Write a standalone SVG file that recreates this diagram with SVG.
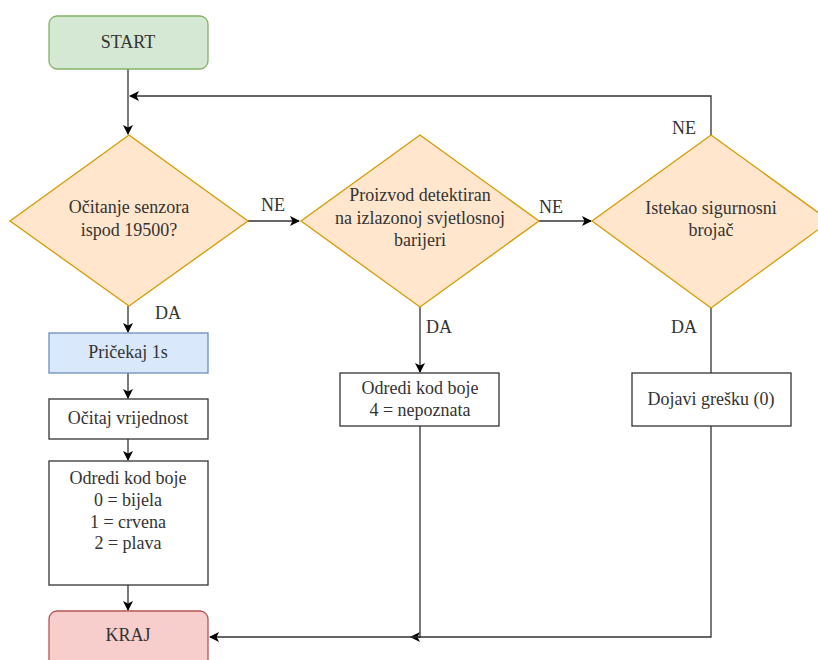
<svg xmlns="http://www.w3.org/2000/svg" width="818" height="660" viewBox="0 0 818 660" font-family="'Liberation Serif', 'DejaVu Serif', serif">
<style>
text{font-family:'Liberation Serif','DejaVu Serif',serif;font-size:18px;fill:#333;text-anchor:middle}
.e{fill:none;stroke:#333;stroke-width:1.3}
.box{fill:#fff;stroke:#333;stroke-width:1.3}
.dia{fill:#ffe6cc;stroke:#d79b00;stroke-width:1.3}
</style>
<defs>
<marker id="ar" viewBox="0 0 10 10" refX="9" refY="5" markerWidth="10" markerHeight="10" markerUnits="userSpaceOnUse" orient="auto">
<path d="M0,0 L10,5 L0,10 L2.5,5 Z" fill="#000"/>
</marker>
</defs>
<g id="connectors">
<path class="e" d="M128,69 V134" marker-end="url(#ar)"/>
<path class="e" d="M711,135 V96 H130" marker-end="url(#ar)"/>
<path class="e" d="M248,221 H299" marker-end="url(#ar)"/>
<path class="e" d="M539,221 H591" marker-end="url(#ar)"/>
<path class="e" d="M128,306 V332" marker-end="url(#ar)"/>
<path class="e" d="M128,373 V398" marker-end="url(#ar)"/>
<path class="e" d="M128,439 V460" marker-end="url(#ar)"/>
<path class="e" d="M128,585 V610" marker-end="url(#ar)"/>
<path class="e" d="M420,307 V372" marker-end="url(#ar)"/>
<path class="e" d="M711,308 V373"/>
<path class="e" d="M711,426 V637 H411" marker-end="url(#ar)"/>
<path class="e" d="M420,426 V637 H210" marker-end="url(#ar)"/>
<text x="273" y="211">NE</text>
<text x="551" y="213">NE</text>
<text x="684" y="134">NE</text>
<text x="168" y="319">DA</text>
<text x="439" y="333">DA</text>
<text x="684" y="333">DA</text>
</g>
<g id="start">
<rect x="49" y="16" width="159" height="53" rx="8" fill="#d5e8d4" stroke="#82b366" stroke-width="1.3"/>
<text x="128" y="48">START</text>
</g>
<g id="d1">
<polygon class="dia" points="129,135 248,221 129,306 10,221"/>
<text x="129" y="213">Očitanje senzora</text>
<text x="129" y="236">ispod 19500?</text>
</g>
<g id="d2">
<polygon class="dia" points="420,135 539,221 420,307 301,221"/>
<text x="420" y="201">Proizvod detektiran</text>
<text x="420" y="224">na izlazonoj svjetlosnoj</text>
<text x="420" y="246">barijeri</text>
</g>
<g id="d3">
<polygon class="dia" points="711,135 830,221 711,308 592,221"/>
<text x="711" y="214">Istekao sigurnosni</text>
<text x="711" y="236">brojač</text>
</g>
<g id="pricekaj">
<rect x="49" y="333" width="159" height="40" fill="#dae8fc" stroke="#6c8ebf" stroke-width="1.3"/>
<text x="128" y="358">Pričekaj 1s</text>
</g>
<g id="ocitaj">
<rect class="box" x="49" y="399" width="159" height="40"/>
<text x="128" y="424">Očitaj vrijednost</text>
</g>
<g id="odredi1">
<rect class="box" x="49" y="461" width="159" height="124"/>
<text x="128" y="484">Odredi kod boje</text>
<text x="128" y="506">0 = bijela</text>
<text x="128" y="528">1 = crvena</text>
<text x="128" y="549">2 = plava</text>
</g>
<g id="odredi2">
<rect class="box" x="340" y="373" width="159" height="53"/>
<text x="420" y="394">Odredi kod boje</text>
<text x="420" y="416">4 = nepoznata</text>
</g>
<g id="dojavi">
<rect class="box" x="632" y="373" width="159" height="53"/>
<text x="711" y="405">Dojavi grešku (0)</text>
</g>
<g id="kraj">
<rect x="49" y="611" width="159" height="56" rx="8" fill="#f8cecc" stroke="#b85450" stroke-width="1.3"/>
<text x="128" y="641">KRAJ</text>
</g>
</svg>
